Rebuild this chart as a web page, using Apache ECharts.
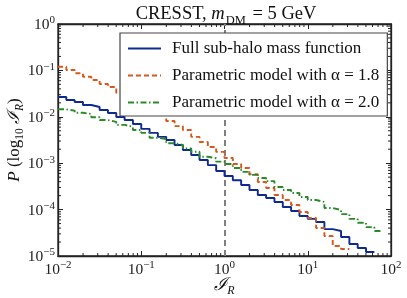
<!DOCTYPE html>
<html>
<head>
<meta charset="utf-8">
<script src="https://cdn.jsdelivr.net/npm/echarts@6/dist/echarts.min.js"></script>
<style>html,body{margin:0;padding:0;background:#fff}#c{width:407px;height:298px}</style>
</head>
<body>
<div id="c"></div>
<script>
// Bin edges: 10 log-spaced bins per decade from 1e-2 to 1e2
var binEdges = [];
for (var k = 0; k <= 40; k++) binEdges.push(Math.pow(10, -2 + k / 10));

var seriesNames = ['Full sub-halo mass function', 'Parametric model with α = 1.8', 'Parametric model with α = 2.0'];

var fullValues = [2.67e-2,2.31e-2,2.08e-2,1.80e-2,1.63e-2,1.40e-2,1.21e-2,9.9e-3,8.5e-3,7.0e-3,
  5.5e-3,4.5e-3,3.7e-3,3.16e-3,2.47e-3,1.92e-3,1.50e-3,1.17e-3,9.1e-4,6.8e-4,
  5.3e-4,4.3e-4,3.39e-4,2.64e-4,2.07e-4,1.78e-4,1.46e-4,1.14e-4,9.3e-5,7.3e-5,
  6.3e-5,5.4e-5,3.8e-5,3.46e-5,2.56e-5,1.82e-5,1.49e-5,1.22e-5];

var alpha18Values = [1.20e-1,1.02e-1,8.65e-2,7.3e-2,6.2e-2,5.1e-2,4.4e-2,3.3e-2,2.71e-2,2.31e-2,
  1.80e-2,1.40e-2,1.09e-2,8.1e-3,6.3e-3,5.2e-3,3.7e-3,2.86e-3,2.23e-3,1.75e-3,
  1.29e-3,9.6e-4,7.9e-4,5.8e-4,3.93e-4,2.92e-4,2.07e-4,1.61e-4,1.26e-4,8.9e-5,
  6.6e-5,4.0e-5,2.7e-5,1.64e-5,1.42e-5];

var alpha20Values = [1.45e-2,1.36e-2,1.22e-2,1.15e-2,9.8e-3,8.5e-3,7.8e-3,6.7e-3,6.1e-3,5.2e-3,
  4.5e-3,3.54e-3,3.32e-3,2.69e-3,2.47e-3,2.09e-3,1.77e-3,1.38e-3,1.28e-3,1.08e-3,
  9.6e-4,7.9e-4,6.5e-4,5.6e-4,4.8e-4,4.1e-4,3.08e-4,2.64e-4,2.28e-4,1.87e-4,
  1.61e-4,1.46e-4,1.08e-4,9.8e-5,8.0e-5,6.3e-5,5.2e-5,4.2e-5,3.46e-5];

var xRange = [1e-2, 1e2];
var yRange = [1e-5, 1];
var markerX = 1;

function stepData(vals) {
  var out = [];
  for (var i = 0; i < vals.length; i++) {
    out.push([binEdges[i], vals[i]]);
    out.push([binEdges[i + 1], vals[i]]);
  }
  return out;
}

// minor tick positions
var xMinor = [], yMinor = [];
for (var e = -2; e < 2; e++) for (var m = 2; m <= 9; m++) xMinor.push([m * Math.pow(10, e), yRange[0]]);
for (var e2 = -5; e2 < 0; e2++) for (var m2 = 2; m2 <= 9; m2++) yMinor.push([xRange[0], m2 * Math.pow(10, e2)]);

var FS = 'Liberation Serif';

function powLabel(v) {
  var ex = Math.round(Math.log10(v));
  var s = ex < 0 ? '\u2212' + (-ex) : '' + ex;
  return '{b|10}{s|' + s + '}';
}
var labelRich = {
  b: {fontSize: 15.5, fontFamily: FS, color: '#222', verticalAlign: 'bottom'},
  s: {fontSize: 11, fontFamily: FS, color: '#222', verticalAlign: 'bottom', padding: [0, 0, 7, 0]}
};

var chart = echarts.init(document.getElementById('c'), null, {renderer: 'canvas'});

var lineCommon = {type: 'line', symbol: 'none', showSymbol: false, animation: false, z: 3};

var option = {
  animation: false,
  title: {
    text: '{a|CRESST, }{i|m}{sub|DM}{a| = 5 GeV}',
    left: 221, textAlign: 'center', top: 0,
    textStyle: {
      fontWeight: 'normal',
      rich: {
        a: {fontSize: 18.5, fontFamily: FS, fontWeight: 'normal', color: '#111', verticalAlign: 'bottom'},
        i: {fontSize: 18.5, fontFamily: FS, fontStyle: 'italic', fontWeight: 'normal', color: '#111', verticalAlign: 'bottom'},
        sub: {fontSize: 12.5, fontFamily: FS, fontWeight: 'normal', color: '#111', verticalAlign: 'bottom', padding: [0, 2, -3, 1]}
      }
    }
  },
  legend: {
    orient: 'vertical', left: 120, top: 33,
    padding: [7, 8, 5, 7], itemGap: 10, itemWidth: 33, itemHeight: 14,
    backgroundColor: '#fff', borderColor: '#444', borderWidth: 1.2, borderRadius: 0,
    itemStyle: {opacity: 0, borderWidth: 0},
    textStyle: {fontSize: 17, fontFamily: FS, color: '#111', padding: [0, 0, 0, 6]},
    data: seriesNames
  },
  grid: {left: 58, right: 16, top: 24, bottom: 42, outerBoundsMode: 'none', containLabel: false,
    show: true, borderColor: '#222', borderWidth: 1.3, backgroundColor: 'transparent'},
  xAxis: [{
    type: 'log', logBase: 10, min: xRange[0], max: xRange[1], position: 'bottom',
    name: '{i|ℐ}{sub|R}', nameLocation: 'middle', nameGap: 20, nameMoveOverlap: false,
    nameTextStyle: {rich: {
      i: {fontSize: 18, fontFamily: '"DejaVu Serif"', fontStyle: 'italic', color: '#111', verticalAlign: 'bottom'},
      sub: {fontSize: 12, fontFamily: FS, fontStyle: 'italic', color: '#111', verticalAlign: 'bottom', padding: [0, 0, -3, 0]}
    }},
    axisLine: {show: true, lineStyle: {color: '#222', width: 1.3}},
    axisTick: {show: true, inside: true, length: 5, lineStyle: {color: '#222', width: 1}},
    axisLabel: {formatter: powLabel, rich: labelRich, margin: 4},
    splitLine: {show: false}
  }, {
    type: 'log', logBase: 10, min: xRange[0], max: xRange[1], position: 'top',
    axisLine: {show: true, lineStyle: {color: '#222', width: 1.3}},
    axisTick: {show: true, inside: true, length: 5, lineStyle: {color: '#222', width: 1}},
    axisLabel: {show: false}, splitLine: {show: false}
  }],
  yAxis: [{
    type: 'log', logBase: 10, min: yRange[0], max: yRange[1], position: 'left',
    name: '{i|P}{r| (log}{sub|10}{r| }{i|ℐ}{sub2|R}{r|)}', nameLocation: 'middle', nameGap: 35, nameRotate: 90,
    nameMoveOverlap: false,
    nameTextStyle: {rich: {
      i: {fontSize: 17, fontFamily: FS, fontStyle: 'italic', color: '#111', verticalAlign: 'bottom'},
      r: {fontSize: 17, fontFamily: FS, color: '#111', verticalAlign: 'bottom'},
      sub: {fontSize: 11.5, fontFamily: FS, color: '#111', verticalAlign: 'bottom', padding: [0, 0, -3, 0]},
      sub2: {fontSize: 11.5, fontFamily: FS, fontStyle: 'italic', color: '#111', verticalAlign: 'bottom', padding: [0, 0, -3, 0]}
    }},
    axisLine: {show: true, lineStyle: {color: '#222', width: 1.3}},
    axisTick: {show: true, inside: true, length: 5, lineStyle: {color: '#222', width: 1}},
    axisLabel: {formatter: powLabel, rich: labelRich, margin: 3},
    splitLine: {show: false}
  }, {
    type: 'log', logBase: 10, min: yRange[0], max: yRange[1], position: 'right',
    axisLine: {show: true, lineStyle: {color: '#222', width: 1.3}},
    axisTick: {show: true, inside: true, length: 5, lineStyle: {color: '#222', width: 1}},
    axisLabel: {show: false}, splitLine: {show: false}
  }],
  series: [
    Object.assign({}, lineCommon, {
      name: seriesNames[0], data: stepData(fullValues),
      lineStyle: {color: '#0e2a8e', width: 1.9}, itemStyle: {color: '#0e2a8e'},
      markLine: {silent: true, symbol: 'none', label: {show: false}, z: 2,
        lineStyle: {color: '#808080', type: [6, 4], width: 2}, data: [{xAxis: markerX}]}
    }),
    Object.assign({}, lineCommon, {
      name: seriesNames[1], data: stepData(alpha18Values),
      lineStyle: {color: '#d5591c', width: 1.9, type: [5, 3]}, itemStyle: {color: '#d5591c'}
    }),
    Object.assign({}, lineCommon, {
      name: seriesNames[2], data: stepData(alpha20Values),
      lineStyle: {color: '#2a8a2a', width: 1.9, type: [6, 2.5, 1.5, 2.5]}, itemStyle: {color: '#2a8a2a'}
    }),
    {
      type: 'custom', silent: true, animation: false, z: 5, data: xMinor,
      renderItem: function (params, api) {
        var x = api.value(0);
        var b = api.coord([x, yRange[0]]);
        var t = api.coord([x, yRange[1]]);
        return {type: 'group', children: [
          {type: 'line', shape: {x1: b[0], y1: b[1], x2: b[0], y2: b[1] - 3}, style: {stroke: '#222', lineWidth: 1}},
          {type: 'line', shape: {x1: t[0], y1: t[1], x2: t[0], y2: t[1] + 3}, style: {stroke: '#222', lineWidth: 1}}
        ]};
      }
    },
    {
      type: 'custom', silent: true, animation: false, z: 5, data: yMinor,
      renderItem: function (params, api) {
        var y = api.value(1);
        var l = api.coord([xRange[0], y]);
        var r = api.coord([xRange[1], y]);
        return {type: 'group', children: [
          {type: 'line', shape: {x1: l[0], y1: l[1], x2: l[0] + 3, y2: l[1]}, style: {stroke: '#222', lineWidth: 1}},
          {type: 'line', shape: {x1: r[0], y1: r[1], x2: r[0] - 3, y2: r[1]}, style: {stroke: '#222', lineWidth: 1}}
        ]};
      }
    }
  ]
};
chart.setOption(option);
</script>
</body>
</html>
